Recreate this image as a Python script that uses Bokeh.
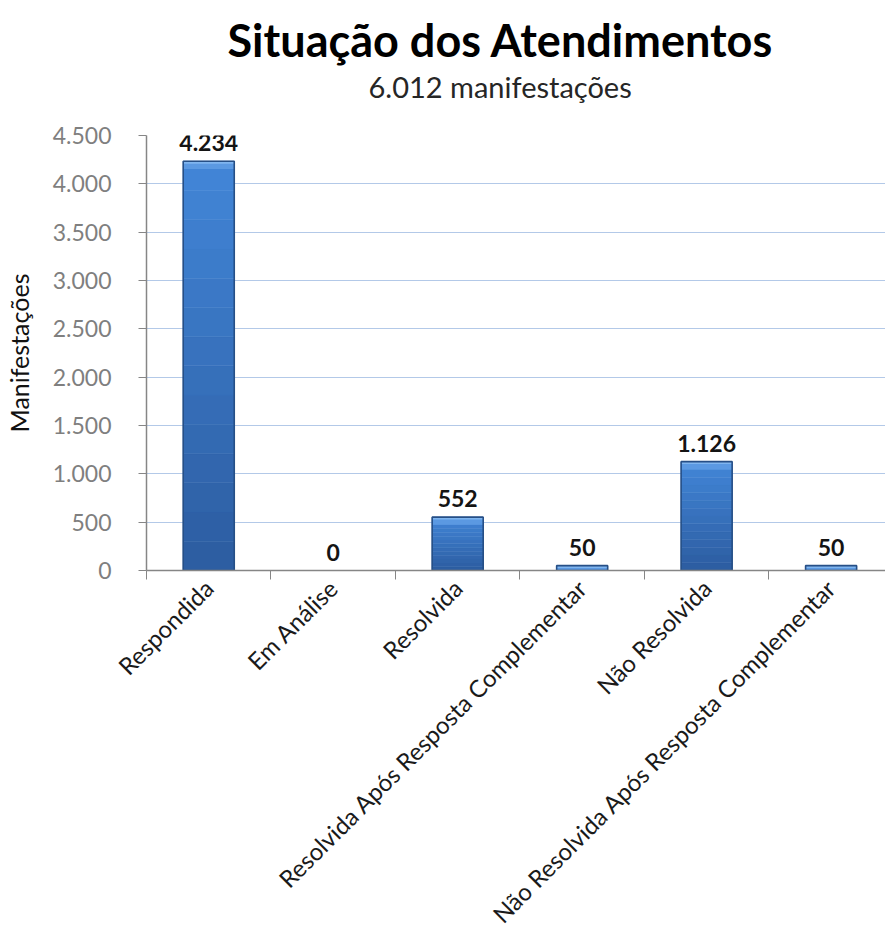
import math
from bokeh.plotting import figure
from bokeh.models import (Range1d, FixedTicker, CustomJSTickFormatter, LabelSet,
                          ColumnDataSource, Title, LinearAxis)
from bokeh.core.properties import value
from bokeh.embed import file_html
from bokeh.resources import INLINE

# ---- data ----
categories = ["Respondida", "Em Análise", "Resolvida",
              "Resolvida Após Resposta Complementar", "Não Resolvida",
              "Não Resolvida Após Resposta Complementar"]
values = [4234, 0, 552, 50, 1126, 50]
y_ticks = [0, 500, 1000, 1500, 2000, 2500, 3000, 3500, 4000, 4500]
title_text = "Situação dos Atendimentos"
subtitle_text = "6.012 manifestações"
y_label = "Manifestações"

FONT = "Lato"


def fmt(v):
    return f"{v:,}".replace(",", ".")


xs = [i + 0.5 for i in range(len(categories))]

p = figure(width=885, height=946, output_backend="svg", toolbar_location=None,
           x_range=Range1d(0, 5.937), y_range=Range1d(0, 4500),
           min_border_left=137, min_border_right=0, min_border_top=135,
           min_border_bottom=376, title=None)
p.outline_line_color = None
p.background_fill_color = "white"
p.border_fill_color = "white"

xa = p.below[0]
ya = p.left[0]

# invisible spacer axis right above the frame (closest panel)
spacer = LinearAxis(ticker=FixedTicker(ticks=[]), axis_line_color=None,
                    major_tick_line_color=None, minor_tick_line_color=None,
                    major_tick_out=0, major_tick_in=0, major_label_standoff=0,
                    major_label_text_font_size="1px",
                    axis_label=" ", axis_label_text_font_size="1px",
                    axis_label_standoff=28)
p.add_layout(spacer, "above")

# titles (stacked outward from the spacer)
sub = Title(text=subtitle_text, align="left", offset=222, text_font=FONT,
            text_font_size="29px", text_font_style="normal",
            text_color="#262626", standoff=0)
p.add_layout(sub, "above")
main = Title(text=title_text, align="left", offset=81, text_font=FONT,
             text_font_size="45px", text_font_style="bold",
             text_color="#000000", standoff=0)
p.add_layout(main, "above")

# grid
p.xgrid.visible = False
p.ygrid.grid_line_color = "#b3c9e8"
p.ygrid.grid_line_width = 1.2
p.ygrid.ticker = FixedTicker(ticks=y_ticks)

# bars: vertical gradient built from stacked segments
N = 14
c_bot = (0x2c, 0x5c, 0xa0)
c_top = (0x42, 0x86, 0xd8)
seg_x, seg_b, seg_t, seg_c = [], [], [], []
for x, v in zip(xs, values):
    if v <= 0:
        continue
    for i in range(N):
        f = (i + 0.5) / N
        col = "#%02x%02x%02x" % tuple(int(round(a + (b - a) * f)) for a, b in zip(c_bot, c_top))
        seg_x.append(x)
        seg_b.append(v * i / N)
        seg_t.append(v * (i + 1) / N)
        seg_c.append(col)
p.vbar(x=seg_x, bottom=seg_b, top=seg_t, width=0.41, fill_color=seg_c,
       line_color=seg_c, line_width=0.5)

# top bevel
cap_x = [x for x, v in zip(xs, values) if v > 0]
cap_t = [v for v in values if v > 0]
cap_b = [max(0, v - 80) for v in values if v > 0]
p.vbar(x=cap_x, bottom=cap_b, top=cap_t, width=0.41, fill_color="#5b99e2",
       line_color=None)
cap_b2 = [max(0, v - 25) for v in values if v > 0]
p.vbar(x=cap_x, bottom=cap_b2, top=cap_t, width=0.41, fill_color="#7fb5ef",
       line_color=None)
# outline
p.vbar(x=cap_x, bottom=0, top=cap_t, width=0.41, fill_color=None,
       line_color="#264f86", line_width=1.6)

# value labels
src = ColumnDataSource(dict(x=xs, y=values, t=[fmt(v) for v in values]))
p.add_layout(LabelSet(x="x", y="y", text="t", source=src, y_offset=10,
                      text_align="center", text_baseline="alphabetic",
                      text_font=value(FONT), text_font_size=value("23px"),
                      text_font_style=value("bold"), text_color=value("#141414")))

# x axis
xa.ticker = FixedTicker(ticks=xs, minor_ticks=list(range(len(categories) + 1)))
xa.major_label_overrides = {x: c for x, c in zip(xs, categories)}
xa.major_tick_line_color = None
xa.minor_tick_line_color = "#868686"
xa.minor_tick_out = 9
xa.minor_tick_in = 0
xa.axis_line_color = "#868686"
xa.axis_line_width = 1.5
xa.major_label_orientation = math.pi / 4
xa.major_label_text_font = FONT
xa.major_label_text_font_size = "24px"
xa.major_label_text_color = "#1a1a1a"
xa.major_label_standoff = 4

# y axis
ya.ticker = FixedTicker(ticks=y_ticks)
ya.formatter = CustomJSTickFormatter(
    code='return Math.round(tick).toString().replace(/\\B(?=(\\d{3})+(?!\\d))/g, ".");')
ya.minor_tick_line_color = None
ya.major_tick_out = 8
ya.major_tick_in = 0
ya.major_tick_line_color = "#868686"
ya.axis_line_color = "#868686"
ya.axis_line_width = 1.5
ya.major_label_text_font = FONT
ya.major_label_text_font_size = "23px"
ya.major_label_text_color = "#7f7f7f"
ya.major_label_standoff = 27
ya.axis_label = y_label
ya.axis_label_text_font = FONT
ya.axis_label_text_font_size = "25px"
ya.axis_label_text_font_style = "normal"
ya.axis_label_text_color = "#111111"
ya.axis_label_standoff = 16

open("out.html", "w").write(file_html(p, INLINE))
